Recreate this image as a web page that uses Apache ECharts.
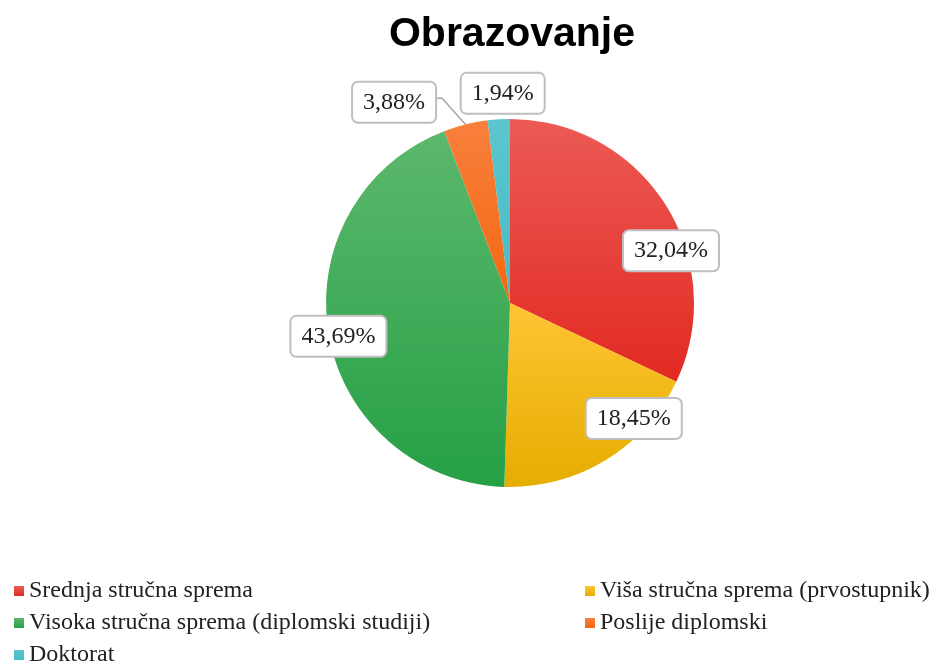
<!DOCTYPE html>
<html>
<head>
<meta charset="utf-8">
<script src="https://cdn.jsdelivr.net/npm/echarts@6/dist/echarts.min.js"></script>
<style>
  html, body { margin: 0; padding: 0; background: #fff; }
  #chart { width: 929px; height: 662px; }
</style>
</head>
<body>
<div id="chart"></div>
<script>
// podaci
const categories = [
  "Srednja stručna sprema",
  "Viša stručna sprema (prvostupnik)",
  "Visoka stručna sprema (diplomski studiji)",
  "Poslije diplomski",
  "Doktorat"
];
const shares = [32.04, 18.45, 43.69, 3.88, 1.94];

// boje (gornja, donja)
const colors = [
  ["#ec5a55", "#e12a22"],
  ["#ffc534", "#e5ad00"],
  ["#5cb86c", "#26a046"],
  ["#f8803c", "#f46712"],
  ["#5cc6ce", "#45bcc5"]
];

// pozicija oznaka: kut (stupnjevi od vrha) i udaljenost u odnosu na radijus
const labelSpots = [[72, 0.92], [133, 0.92], [259, 0.95], [330, 1.26], [358, 1.14]];

const chart = echarts.init(document.getElementById("chart"));
const pieCenter = [510, 303];
const pieRadius = 184;
const total = shares.reduce((a, b) => a + b, 0);

function grad(c) {
  return new echarts.graphic.LinearGradient(0, 0, 0, 1, [
    { offset: 0, color: c[0] },
    { offset: 1, color: c[1] }
  ]);
}

// tocka na rubu kruga, u sredini isjecka
function edgePoint(i) {
  let before = 0;
  for (let k = 0; k < i; k++) before += shares[k];
  const a = ((before + shares[i] / 2) / total) * 2 * Math.PI;
  return [pieCenter[0] + pieRadius * Math.sin(a), pieCenter[1] - pieRadius * Math.cos(a)];
}

const legendText = {
  fontFamily: "Liberation Serif",
  fontSize: 24,
  color: "#222"
};

const option = {
  backgroundColor: "#fff",
  title: {
    text: "Obrazovanje",
    left: 507,
    top: 9,
    textAlign: "center",
    textStyle: {
      fontFamily: "Liberation Sans",
      fontWeight: "bold",
      fontSize: 41,
      color: "#000"
    }
  },
  legend: [
    {
      orient: "vertical",
      left: 14,
      top: 579,
      height: 120,
      padding: 0,
      itemWidth: 10,
      itemHeight: 10,
      itemGap: 8,
      icon: "rect",
      data: [categories[0], categories[2], categories[4]],
      textStyle: legendText
    },
    {
      orient: "vertical",
      left: 585,
      top: 579,
      height: 120,
      padding: 0,
      itemWidth: 10,
      itemHeight: 10,
      itemGap: 8,
      icon: "rect",
      data: [categories[1], categories[3]],
      textStyle: legendText
    }
  ],
  series: [
    {
      type: "pie",
      center: pieCenter,
      radius: pieRadius,
      startAngle: 90,
      clockwise: true,
      animation: false,
      emphasis: { disabled: true },
      data: categories.map((name, i) => ({
        name: name,
        value: shares[i],
        itemStyle: { color: grad(colors[i]) },
        labelLine: { show: i === 3 }
      })),
      label: {
        show: true,
        position: "outside",
        formatter: (p) => p.value.toFixed(2).replace(".", ",") + "%",
        fontFamily: "Liberation Serif",
        fontSize: 24,
        color: "#222",
        backgroundColor: "#fff",
        borderColor: "#bfbfbf",
        borderWidth: 2,
        borderRadius: 5,
        padding: [8, 10, 7, 10]
      },
      labelLine: {
        show: false,
        lineStyle: { color: "#a6a6a6", width: 1.5 }
      },
      labelLayout: function (params) {
        const i = params.dataIndex;
        const s = labelSpots[i];
        const a = (s[0] * Math.PI) / 180;
        const r = pieRadius * s[1];
        const x = pieCenter[0] + r * Math.sin(a);
        const y = pieCenter[1] - r * Math.cos(a);
        const out = { x: x, y: y, align: "center", verticalAlign: "middle" };
        if (i === 3) {
          const right = x + params.labelRect.width / 2;
          out.labelLinePoints = [edgePoint(i), [right + 5, y - 4], [right, y - 4]];
        }
        return out;
      }
    }
  ]
};

chart.setOption(option);
</script>
</body>
</html>
